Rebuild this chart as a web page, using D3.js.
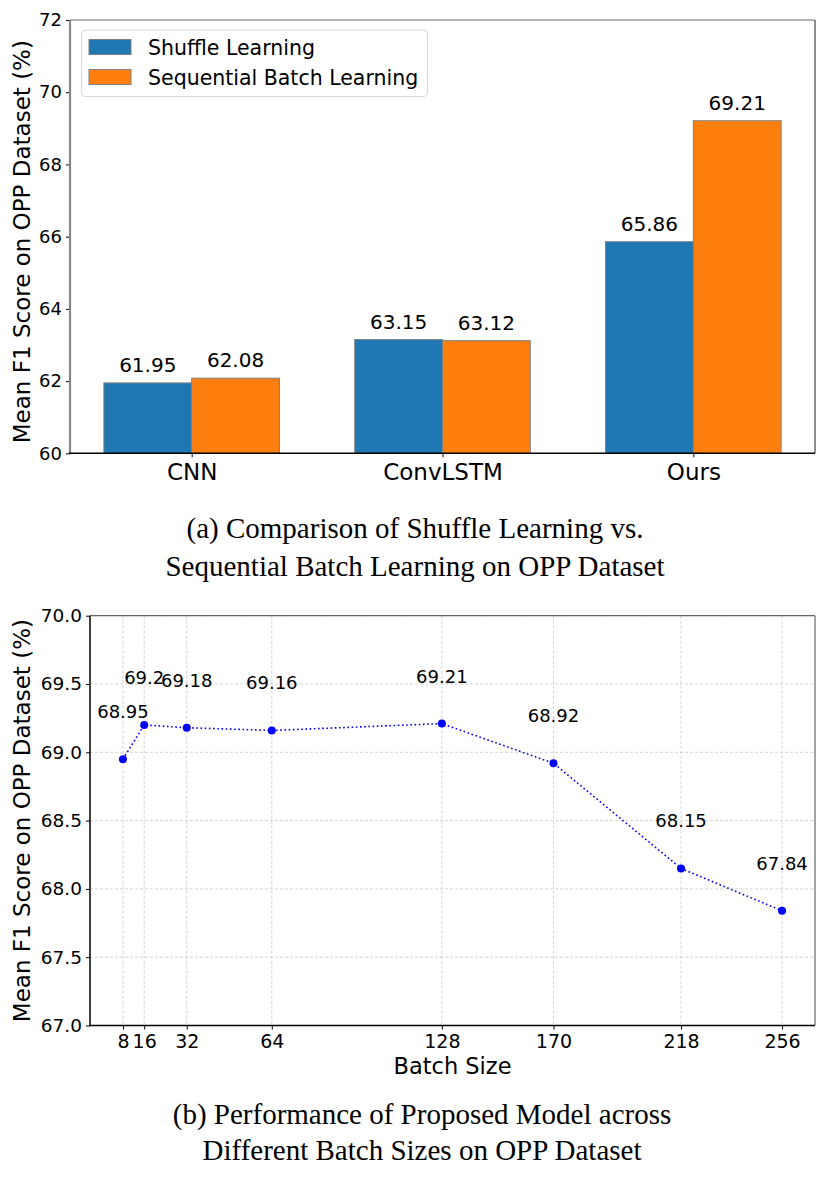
<!DOCTYPE html>
<html>
<head>
<meta charset="utf-8">
<script src="https://cdn.jsdelivr.net/npm/d3@7"></script>
<style>
  html, body { margin: 0; padding: 0; background: #fff; }
  svg { display: block; }
</style>
</head>
<body>
<svg id="chart" width="830" height="1179"></svg>
<script>
// ---------- DATA ----------
const categories = ["CNN", "ConvLSTM", "Ours"];
const seriesNames = ["Shuffle Learning", "Sequential Batch Learning"];
const shuffleValues = [61.95, 63.15, 65.86];
const sequentialValues = [62.08, 63.12, 69.21];
const yTicksA = [60, 62, 64, 66, 68, 70, 72];

const batchSizes = [8, 16, 32, 64, 128, 170, 218, 256];
const f1Scores = [68.95, 69.2, 69.18, 69.16, 69.21, 68.92, 68.15, 67.84];
const yTicksB = [67.0, 67.5, 68.0, 68.5, 69.0, 69.5, 70.0];

const captionA = ["(a) Comparison of Shuffle Learning vs.", "Sequential Batch Learning on OPP Dataset"];
const captionB = ["(b) Performance of Proposed Model across", "Different Batch Sizes on OPP Dataset"];
const yLabel = "Mean F1 Score on OPP Dataset (%)";
const xLabelB = "Batch Size";

// ---------- SETUP ----------
const svg = d3.select("#chart");
const FONT = "DejaVu Sans, sans-serif";
const SERIF = "Liberation Serif, Times New Roman, serif";
const colors = ["#1f77b4", "#ff7f0e"];

// ================= CHART A =================
const A = { left: 70, right: 815, top: 20, bottom: 453.3 };
const xA = d3.scaleLinear().domain([-0.485, 2.485]).range([A.left, A.right]);
const yA = d3.scaleLinear().domain([60, 72]).range([A.bottom, A.top]);
const barW = 0.35;

const gA = svg.append("g");

const series = [shuffleValues, sequentialValues];
series.forEach((vals, si) => {
  gA.selectAll(null).data(vals).enter().append("rect")
    .attr("x", (d, i) => xA(i + (si === 0 ? -barW : 0)))
    .attr("width", xA(barW) - xA(0))
    .attr("y", d => yA(d))
    .attr("height", d => yA(60) - yA(d))
    .attr("fill", colors[si])
    .attr("stroke", "#808080")
    .attr("stroke-width", 1);
  gA.selectAll(null).data(vals).enter().append("text")
    .attr("x", (d, i) => xA(i + (si === 0 ? -barW / 2 : barW / 2)))
    .attr("y", d => yA(d) - 11)
    .attr("text-anchor", "middle")
    .attr("font-family", FONT)
    .attr("font-size", 20)
    .text(d => d.toFixed(2));
});

// axes A
const yAxisA = d3.axisLeft(yA).tickValues(yTicksA).tickSize(4).tickPadding(4).tickFormat(d3.format("d"));
const gyA = gA.append("g").attr("transform", `translate(${A.left},0)`).call(yAxisA);
gyA.select(".domain").remove();
gyA.selectAll("text").attr("font-family", FONT).attr("font-size", 18).attr("fill", "#000");

const xAxisA = d3.axisBottom(xA).tickValues(d3.range(categories.length)).tickSize(4).tickPadding(6)
  .tickFormat(i => categories[i]);
const gxA = gA.append("g").attr("transform", `translate(0,${A.bottom})`).call(xAxisA);
gxA.select(".domain").remove();
gxA.selectAll("text").attr("font-family", FONT).attr("font-size", 23).attr("fill", "#000");

// spines A
gA.append("line").attr("x1", A.left).attr("x2", A.right).attr("y1", A.top).attr("y2", A.top).attr("stroke", "#666").attr("stroke-width", 1.2);
gA.append("line").attr("x1", A.right).attr("x2", A.right).attr("y1", A.top).attr("y2", A.bottom).attr("stroke", "#444").attr("stroke-width", 1.2);
gA.append("line").attr("x1", A.left).attr("x2", A.left).attr("y1", A.top).attr("y2", A.bottom).attr("stroke", "#888").attr("stroke-width", 2.2);
gA.append("line").attr("x1", A.left - 1).attr("x2", A.right).attr("y1", A.bottom).attr("y2", A.bottom).attr("stroke", "#000").attr("stroke-width", 1.5);

// y label A
gA.append("text")
  .attr("transform", `translate(30,${(A.top + A.bottom) / 2 + 5}) rotate(-90)`)
  .attr("text-anchor", "middle")
  .attr("font-family", FONT).attr("font-size", 23)
  .text(yLabel);

// legend A
const leg = gA.append("g").attr("transform", "translate(81.5,30)");
leg.append("rect").attr("width", 346).attr("height", 66.5).attr("rx", 4)
  .attr("fill", "#fff").attr("fill-opacity", 0.8).attr("stroke", "#d6d6d6").attr("stroke-width", 1);
seriesNames.forEach((name, i) => {
  leg.append("rect").attr("x", 7.5).attr("y", 9.5 + i * 30).attr("width", 42).attr("height", 15)
    .attr("fill", colors[i]).attr("stroke", "#808080").attr("stroke-width", 1);
  leg.append("text").attr("x", 66.5).attr("y", 24.5 + i * 30)
    .attr("font-family", FONT).attr("font-size", 20.5).text(name);
});

// caption A
captionA.forEach((t, i) => {
  svg.append("text").attr("x", 415).attr("y", 538 + i * 38)
    .attr("text-anchor", "middle").attr("font-family", SERIF).attr("font-size", 29).text(t);
});

// ================= CHART B =================
const B = { left: 90, right: 815, top: 615.7, bottom: 1025.5 };
const xB = d3.scaleLinear().domain([8 - 0.05 * 248, 256 + 0.05 * 248]).range([B.left, B.right]);
const yB = d3.scaleLinear().domain([67, 70]).range([B.bottom, B.top]);
const gB = svg.append("g");

// grid
gB.selectAll(null).data(yTicksB).enter().append("line")
  .attr("x1", B.left).attr("x2", B.right).attr("y1", d => yB(d)).attr("y2", d => yB(d))
  .attr("stroke", "#c8c8c8").attr("stroke-width", 0.8).attr("stroke-dasharray", "3,2");
gB.selectAll(null).data(batchSizes).enter().append("line")
  .attr("x1", d => xB(d)).attr("x2", d => xB(d)).attr("y1", B.top).attr("y2", B.bottom)
  .attr("stroke", "#c8c8c8").attr("stroke-width", 0.8).attr("stroke-dasharray", "3,2");

// axes B
const yAxisB = d3.axisLeft(yB).tickValues(yTicksB).tickSize(4).tickPadding(4).tickFormat(d3.format(".1f"));
const gyB = gB.append("g").attr("transform", `translate(${B.left},0)`).call(yAxisB);
gyB.select(".domain").remove();
gyB.selectAll("text").attr("font-family", FONT).attr("font-size", 18.5).attr("fill", "#000");

const xAxisB = d3.axisBottom(xB).tickValues(batchSizes).tickSize(4).tickPadding(5).tickFormat(d3.format("d"));
const gxB = gB.append("g").attr("transform", `translate(0,${B.bottom})`).call(xAxisB);
gxB.select(".domain").remove();
gxB.selectAll("text").attr("font-family", FONT).attr("font-size", 19).attr("fill", "#000");

// spines B
gB.append("line").attr("x1", B.left).attr("x2", B.right).attr("y1", B.top).attr("y2", B.top).attr("stroke", "#666").attr("stroke-width", 1.2);
gB.append("line").attr("x1", B.right).attr("x2", B.right).attr("y1", B.top).attr("y2", B.bottom).attr("stroke", "#666").attr("stroke-width", 1.2);
gB.append("line").attr("x1", B.left).attr("x2", B.left).attr("y1", B.top).attr("y2", B.bottom).attr("stroke", "#000").attr("stroke-width", 1.5);
gB.append("line").attr("x1", B.left - 0.75).attr("x2", B.right).attr("y1", B.bottom).attr("y2", B.bottom).attr("stroke", "#000").attr("stroke-width", 1.5);

// line + markers
const pts = batchSizes.map((b, i) => [b, f1Scores[i]]);
gB.append("path").datum(pts)
  .attr("d", d3.line().x(d => xB(d[0])).y(d => yB(d[1])))
  .attr("fill", "none").attr("stroke", "#0000ff").attr("stroke-width", 1.6)
  .attr("stroke-dasharray", "1.6,2.6");
gB.selectAll(null).data(pts).enter().append("circle")
  .attr("cx", d => xB(d[0])).attr("cy", d => yB(d[1])).attr("r", 4)
  .attr("fill", "#0000ff");
gB.selectAll(null).data(pts).enter().append("text")
  .attr("x", d => xB(d[0])).attr("y", d => yB(d[1] + 0.3))
  .attr("text-anchor", "middle").attr("font-family", FONT).attr("font-size", 18)
  .text(d => String(d[1]));

// labels B
gB.append("text")
  .attr("transform", `translate(30,${(B.top + B.bottom) / 2}) rotate(-90)`)
  .attr("text-anchor", "middle").attr("font-family", FONT).attr("font-size", 23)
  .text(yLabel);
gB.append("text").attr("x", (B.left + B.right) / 2).attr("y", 1074)
  .attr("text-anchor", "middle").attr("font-family", FONT).attr("font-size", 22.5)
  .text(xLabelB);

// caption B
captionB.forEach((t, i) => {
  svg.append("text").attr("x", 422).attr("y", 1124 + i * 36)
    .attr("text-anchor", "middle").attr("font-family", SERIF).attr("font-size", 29).text(t);
});
</script>
</body>
</html>
